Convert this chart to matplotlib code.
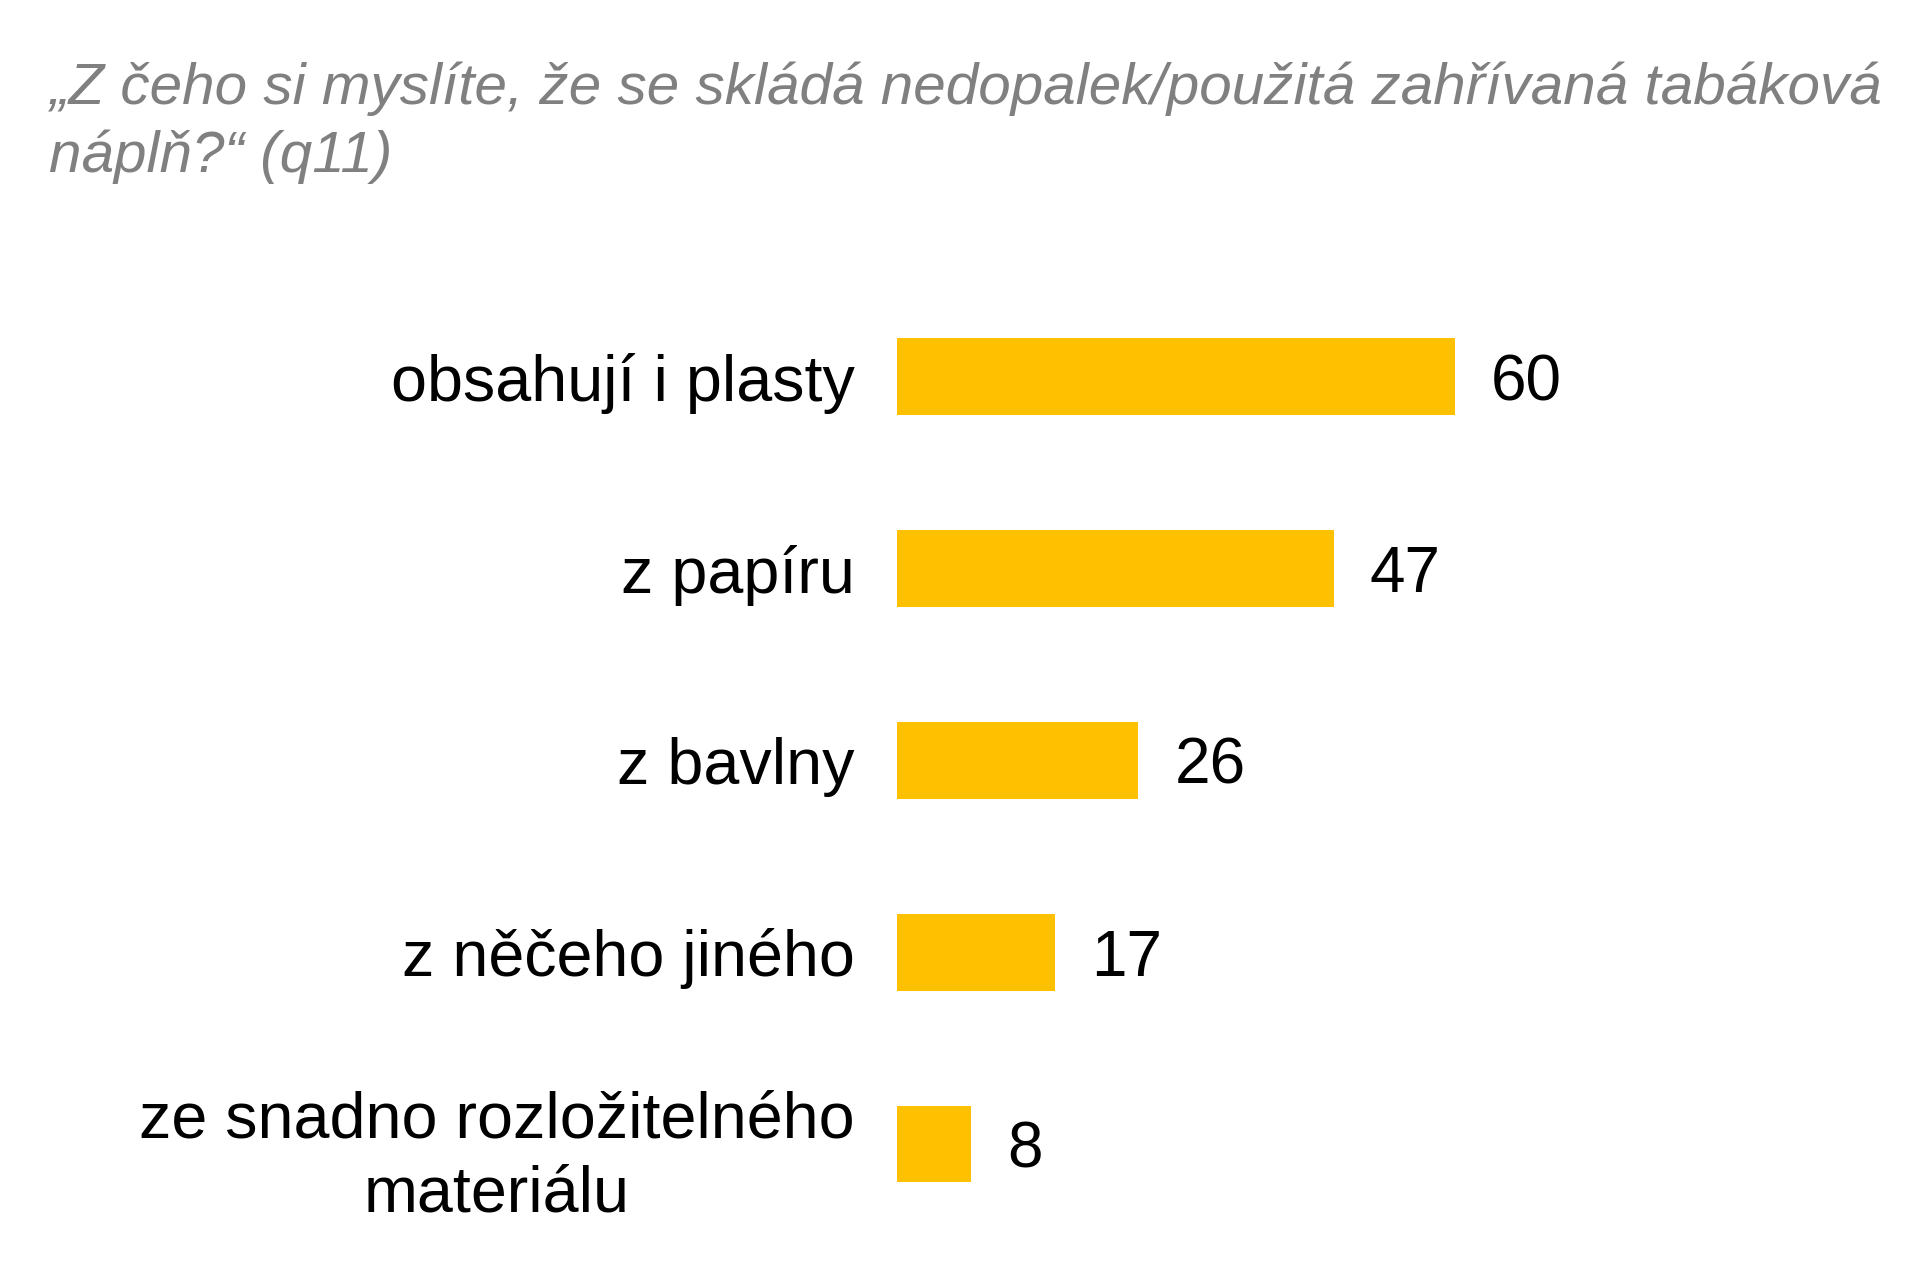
import matplotlib.pyplot as plt

categories = ['obsahují i plasty', 'z papíru', 'z bavlny', 'z něčeho jiného',
              'ze snadno rozložitelného\nmateriálu']
values = [60, 47, 26, 17, 8]
title = '„Z čeho si myslíte, že se skládá nedopalek/použitá zahřívaná tabáková\nnáplň?“ (q11)'

plt.rcParams['font.family'] = ['Liberation Sans', 'DejaVu Sans']

fig = plt.figure(figsize=(19.2, 12.77), dpi=100)
ax = fig.add_axes([0.467, 0.029, 0.4844, 0.751])

ypos = range(len(categories))
ax.barh(ypos, values, height=0.4, color='#FFC000')
ax.set_xlim(0, 100)
ax.set_ylim(4.5, -0.5)
ax.set_yticks(list(ypos))
ax.set_yticklabels(categories, fontsize=46.5, color='black')
for lbl in ax.get_yticklabels():
    lbl.set_multialignment('center')
    lbl.set_linespacing(1.3)
ax.tick_params(axis='y', length=0, pad=30)
ax.set_xticks([])
for s in ax.spines.values():
    s.set_visible(False)

# value labels at bar ends
for y, v in zip(ypos, values):
    ax.annotate(str(v), (v, y), xytext=(26, 0), textcoords='offset points',
                ha='left', va='center_baseline', fontsize=46, color='black')

fig.text(0.0255, 1 - 62 / 1277, title, ha='left', va='top', fontsize=42,
         style='italic', color='#808080', linespacing=1.3)

fig.savefig('out.png', dpi=100)
